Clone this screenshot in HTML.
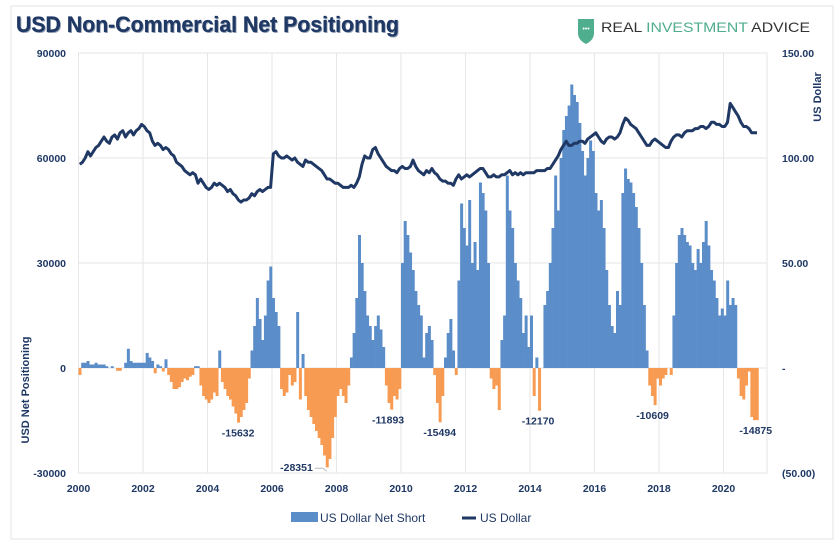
<!DOCTYPE html>
<html><head><meta charset="utf-8">
<style>
body{margin:0;background:#fff;width:837px;height:543px;overflow:hidden;font-family:"Liberation Sans",sans-serif;}
svg text{font-family:"Liberation Sans",sans-serif;}
</style></head>
<body>
<svg id="chart" width="837" height="543" viewBox="0 0 837 543">
  <rect x="11" y="6" width="822" height="533" fill="#fff" stroke="#e3e3e3" stroke-width="1"/>
  <text x="17" y="33" font-size="22" font-weight="bold" fill="#9aa6b8" textLength="383" lengthAdjust="spacingAndGlyphs">USD Non-Commercial Net Positioning</text>
  <text x="16" y="32" font-size="22" font-weight="bold" fill="#1f3864" textLength="383" lengthAdjust="spacingAndGlyphs" stroke="#1f3864" stroke-width="0.3">USD Non-Commercial Net Positioning</text>
  <g>
    <path d="M578 19 h16 v14 q0 7 -8 11 q-8 -4 -8 -11 z" fill="#4fae8e"/>
    <text x="586" y="31" font-size="7" fill="#fff" text-anchor="middle">•••</text>
    <text x="601" y="32" font-size="14" fill="#333" textLength="209" lengthAdjust="spacingAndGlyphs">REAL <tspan fill="#4fae8e">INVESTMENT</tspan> ADVICE</text>
  </g>
  <g id="grid"></g>
  <g id="bars"></g>
  <g id="line"></g>
  <g id="axes"></g>
  <g id="labels"></g>
  <text transform="translate(29,390) rotate(-90)" font-size="11" font-weight="bold" fill="#1f3864" text-anchor="middle">USD Net Positioning</text>
  <text transform="translate(821,97) rotate(-90)" font-size="11" font-weight="bold" fill="#1f3864" text-anchor="middle">US Dollar</text>
  <g>
    <rect x="291" y="512" width="27" height="10" fill="#5b8dc9"/>
    <text x="320" y="522" font-size="12" fill="#1f3864">US Dollar Net Short</text>
    <line x1="462" y1="518" x2="476" y2="518" stroke="#1f3864" stroke-width="3"/>
    <text x="480" y="522" font-size="12" fill="#1f3864">US Dollar</text>
  </g>
</svg>
<script>
// Monthly net positioning (thousands of contracts), Jan 2000 .. Jan 2021
const netPositions = [
-2,1.5,1.5,2,1,1,1.5,1,1,1,0.5,0,
0.5,0,-0.8,-0.8,0,1.5,5.5,2,1.5,1.5,1.5,1.5,
1.5,4.3,3,2,-1.5,1,0.5,-1,2.5,-2,-4,-6,
-6,-5.5,-4,-3,-3.5,-2.5,-2,0.5,0.5,-5,-8,-9,
-10,-9,-7,-8,5,-4,-6,-8,-9,-11,-13,-15.6,
-14,-12,-10,-3,5,12,20,14,8,15,25,29,
20,16,12,-6,-8,-7,-2,-5,-4,16,-9,4,
-8,-12,-14,-16,-18,-20,-22,-25,-28.4,-26,-20,-14,
-8,-6,-8,-10,-5,3,10,20,38,30,22,15,
12,8,12,15,11,6,-5,-10,-11.9,-8,-9,-6,
30,42,38,33,28,22,18,15,3,10,12,8,
-2,-10,-15.5,-8,3,10,14,5,-2,25,47,40,
35,48,30,36,28,53,50,45,30,-3,-6,-5,
-12,8,15,55,45,40,30,25,20,10,15,6,
15,-8,3,-12.2,0,18,22,30,40,55,45,60,
68,72,75,81,78,76,70,62,55,60,65,62,
50,45,48,40,28,18,12,10,22,18,50,57,
54,53,50,46,40,30,18,5,-5,-8,-10.6,-3,
-5,-3,-2,0,-2,15,30,38,40,38,36,35,
30,28,34,30,36,42,35,28,25,20,15,17,
15,25,18,20,18,-3,-8,-9,-5,-1,-14,-14.9,
-14.9];
// Monthly US Dollar index, Jan 2000 .. Jan 2021
const dollarIndex = [
97,98,100,103,101,103,105,106,108,110,108,107,
110,111,109,112,113,110,112,113,111,113,114,116,
115,113,112,108,106,107,106,104,105,104,102,101,
98,97,96,94,93,92,93,92,88,90,88,86,
85,86,88,87,88,87,86,84,85,83,82,80,
79,80,80,81,83,82,84,85,84,85,86,86,
102,103,101,100,100,101,100,99,100,98,97,96,
99,98,98,97,96,95,94,92,90,90,89,88,
88,87,86,86,86,87,86,88,91,97,101,100,
100,104,105,102,100,98,96,95,94,94,93,95,
96,95,95,96,99,96,94,93,92,94,93,95,
93,92,90,89,89,88,88,87,90,92,90,91,
92,91,92,93,94,95,95,93,91,91,92,91,
91,92,92,93,94,92,93,92,93,92,93,93,
93,93,94,94,94,94,95,95,97,99,101,104,
106,108,106,106,107,107,108,108,107,109,110,111,
112,110,108,107,109,110,110,109,110,112,116,119,
118,116,115,114,112,110,108,106,106,108,109,108,
107,106,105,105,108,110,111,111,110,112,113,113,
113,114,114,115,115,114,115,117,117,116,116,115,
115,117,126,124,122,120,117,115,115,114,112,112,
112];
const leftTicks = [90000,60000,30000,0,-30000];
const leftTickLabels = ["90000","60000","30000","0","-30000"];
const rightTicks = [150,100,50,0,-50];
const rightTickLabels = ["150.00","100.00","50.00","-","(50.00)"];
const yearTicks = [2000,2002,2004,2006,2008,2010,2012,2014,2016,2018,2020];
const annotYears = [2004.95,2007.7,2009.6,2011.2,2014.25,2017.8,2021.0];
const annotValues = [-15632,-28351,-11893,-15494,-12170,-10609,-14875];

const NS="http://www.w3.org/2000/svg";
const X0=78.5, X1=767, YT=53, YB=473;
const xs = y => X0 + (y-2000)*32.25;
const yl = v => 368 - v*(105/30000);
const yr = v => 368 - v*2.1;
function mk(tag, attrs, parent){const e=document.createElementNS(NS,tag);for(const k in attrs)e.setAttribute(k,attrs[k]);parent.appendChild(e);return e;}
const grid=document.getElementById('grid'), axes=document.getElementById('axes');
leftTicks.forEach((t,i)=>{
  const l=mk('line',{x1:X0,x2:X1,y1:yl(t),y2:yl(t),stroke:'#e6e6e6','stroke-width':1},grid);
  
  
  const tx=mk('text',{x:66,y:yl(t)+4,'font-size':10.5,'font-weight':'bold',fill:'#1f3864','text-anchor':'end'},axes);
  tx.textContent=leftTickLabels[i];
  
  
});
rightTicks.forEach((t,i)=>{
  const tx=mk('text',{x:782,y:yr(t)+4,'font-size':10.5,'font-weight':'bold',fill:'#1f3864'},axes);
  tx.textContent=rightTickLabels[i];
  
  
});
yearTicks.forEach(y=>{
  const l=mk('line',{x1:xs(y),x2:xs(y),y1:YT,y2:YB,stroke:'#e6e6e6','stroke-width':1},grid);
  
  
  const tx=mk('text',{x:xs(y),y:492,'font-size':10.5,'font-weight':'bold',fill:'#1f3864','text-anchor':'middle'},axes);
  tx.textContent=String(y);
  
  
});
const fr=mk('rect',{x:X0,y:YT,width:X1-X0,height:YB-YT,fill:'none',stroke:'#e6e6e6'},grid);


const bars=document.getElementById('bars');
const bw=32.25/12;
netPositions.forEach((v,i)=>{
  const yv=v*1000, yy=yl(Math.max(yv,0)), h=Math.abs(yl(yv)-yl(0));
  const b=mk('rect',{x:xs(2000+i/12),y:yy,width:bw+0.3,height:h,fill:v>=0?'#5b8dc9':'#f79a52'},bars);
  
  
});
const pts=dollarIndex.map((v,i)=>xs(2000+i/12+0.04).toFixed(1)+','+yr(v).toFixed(1)).join(' ');
const pl=mk('polyline',{points:pts,fill:'none',stroke:'#1f3864','stroke-width':3,'stroke-linejoin':'round'},document.getElementById('line'));


const labels=document.getElementById('labels');
annotValues.forEach((v,i)=>{
  let x=xs(annotYears[i]), y=yl(v)+14, anchor='middle';
  if(i===1){x-=14;y=yl(v)+4;anchor='end';
    const ll=mk('path',{d:`M${x+2},${y-3} L${x+10},${y-3} L${x+14},${y}`,stroke:'#bbb',fill:'none'},labels);
    
    }
  const tx=mk('text',{x:x,y:y,'font-size':10.5,'font-weight':'bold',fill:'#1f3864','text-anchor':anchor},labels);
  tx.textContent=String(v);
  
  
});
</script>
</body></html>
